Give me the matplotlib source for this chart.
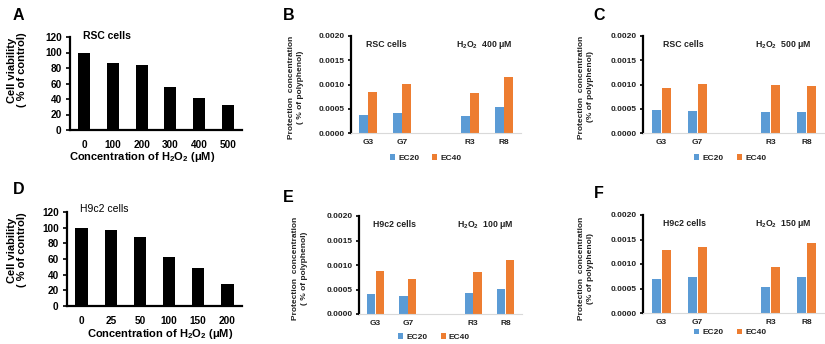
import numpy as np
import matplotlib
matplotlib.use("Agg")
import matplotlib.pyplot as plt
from matplotlib.ticker import FormatStrFormatter

plt.rcParams["font.family"] = ["Liberation Sans", "DejaVu Sans"]
plt.rcParams["mathtext.fontset"] = "custom"
plt.rcParams["mathtext.rm"] = "Liberation Sans"
plt.rcParams["mathtext.bf"] = "Liberation Sans:bold"

# --- data ---
rsc_conc = ["0", "100", "200", "300", "400", "500"]
rsc_viability = [100, 86, 84, 56, 41, 32]
h9c2_conc = ["0", "25", "50", "100", "150", "200"]
h9c2_viability = [100, 97, 88, 62, 49, 28]

groups = ["G3", "G7", "", "R3", "R8"]
b_ec20 = [0.00038, 0.00042, np.nan, 0.00036, 0.00053]
b_ec40 = [0.00084, 0.00101, np.nan, 0.00083, 0.00116]
c_ec20 = [0.00047, 0.00045, np.nan, 0.00044, 0.00043]
c_ec40 = [0.00093, 0.00102, np.nan, 0.00098, 0.00096]
e_ec20 = [0.00041, 0.00036, np.nan, 0.00043, 0.00052]
e_ec40 = [0.00088, 0.00072, np.nan, 0.00086, 0.00110]
f_ec20 = [0.00070, 0.00073, np.nan, 0.00053, 0.00073]
f_ec40 = [0.00128, 0.00135, np.nan, 0.00094, 0.00143]

BLUE = "#5B9BD5"
ORANGE = "#ED7D31"
W, H = 825, 344

fig = plt.figure(figsize=(8.25, 3.44), dpi=100)


def px_axes(left, top, right, bottom):
    return fig.add_axes([left / W, 1 - bottom / H, (right - left) / W, (bottom - top) / H])


def ptext(x, y, s, **kw):
    fig.text(x / W, 1 - y / H, s, **kw)


def viability_panel(ax, labels, vals, title, title_weight, title_y):
    x = np.arange(len(labels))
    ax.bar(x, vals, width=0.42, color="black")
    ax.set_xlim(-0.5, len(labels) - 0.5)
    ax.set_ylim(0, 120)
    ax.set_yticks(range(0, 121, 20))
    ax.set_xticks(x)
    ax.set_xticklabels(labels)
    for s in ["top", "right"]:
        ax.spines[s].set_visible(False)
    for s in ["left", "bottom"]:
        ax.spines[s].set_linewidth(1.6)
    ax.tick_params(axis="x", length=0, pad=7)
    ax.tick_params(axis="y", length=3, width=1.2, pad=3)
    for t in ax.get_xticklabels() + ax.get_yticklabels():
        t.set_fontsize(7.2)
        t.set_fontweight("bold")
    ax.text(0.075, title_y, title, transform=ax.transAxes, fontsize=7.5,
            fontweight=title_weight, va="center")


def protection_panel(ax, ec20, ec40, cells, h2o2, lx, ly, tx):
    x = np.arange(len(groups))
    ax.bar(x - 0.135, ec20, width=0.25, color=BLUE, label="EC20")
    ax.bar(x + 0.135, ec40, width=0.25, color=ORANGE, label="EC40")
    ax.set_xlim(-0.5, len(groups) - 0.5)
    ax.set_ylim(0, 0.002)
    ax.set_yticks(np.arange(0, 0.00201, 0.0005))
    ax.yaxis.set_major_formatter(FormatStrFormatter("%.4f"))
    ax.set_xticks([i for i, g in enumerate(groups) if g])
    ax.set_xticklabels([g for g in groups if g])
    for s in ["top", "right"]:
        ax.spines[s].set_visible(False)
    ax.spines["left"].set_linewidth(1.6)
    ax.spines["bottom"].set_color("#d9d9d9")
    ax.spines["bottom"].set_linewidth(0.8)
    ax.tick_params(axis="x", length=0, pad=4)
    ax.tick_params(axis="y", length=2.5, width=1.2, pad=2)
    for t in ax.get_xticklabels() + ax.get_yticklabels():
        t.set_fontsize(6)
        t.set_fontweight("bold")
        t.set_color("#222222")
    ax.text(tx[0], 0.91, cells, transform=ax.transAxes, fontsize=6.3,
            fontweight="bold", va="center", color="#222222")
    ax.text(tx[1], 0.91, r"H$_\mathbf{2}$O$_\mathbf{2}$  " + h2o2, transform=ax.transAxes,
            fontsize=6.3, fontweight="bold", va="center", color="#222222")
    leg = ax.legend(loc="center", bbox_to_anchor=(lx, ly), ncol=2, frameon=False,
                    handlelength=0.6, handleheight=0.6, handletextpad=0.4,
                    columnspacing=1.6, prop={"size": 6, "weight": "bold"})
    for t in leg.get_texts():
        t.set_color("#222222")


# A
axA = px_axes(70, 37, 242, 130)
viability_panel(axA, rsc_conc, rsc_viability, "RSC cells", "bold", 1.01)
# D
axD = px_axes(67, 212, 242, 306)
viability_panel(axD, h9c2_conc, h9c2_viability, "H9c2 cells", "normal", 1.03)

xlab = r"Concentration of H$_\mathbf{2}$O$_\mathbf{2}$ (μM)"
ptext(142, 157, xlab, fontsize=8, fontweight="bold", ha="center", va="center")
ptext(160, 334, xlab, fontsize=8, fontweight="bold", ha="center", va="center")
for y in (70, 250):
    ptext(17, y, "Cell viability\n( % of control)", fontsize=8, fontweight="bold",
          rotation=90, ha="center", va="center", linespacing=1.1)

# B, C, E, F
axB = px_axes(351, 36, 521, 133)
protection_panel(axB, b_ec20, b_ec40, "RSC cells", "400 μM", 0.44, -0.26, (0.09, 0.62))
axC = px_axes(643, 36, 825, 133)
protection_panel(axC, c_ec20, c_ec40, "RSC cells", "500 μM", 0.48, -0.26, (0.11, 0.615))
axE = px_axes(359, 216, 522, 314)
protection_panel(axE, e_ec20, e_ec40, "H9c2 cells", "100 μM", 0.46, -0.235, (0.086, 0.60))
axF = px_axes(643, 215, 825, 313)
protection_panel(axF, f_ec20, f_ec40, "H9c2 cells", "150 μM", 0.48, -0.2, (0.11, 0.615))

ylab_b = "Protection  concentration\n( % of polyphenol)"
ylab_c = "Protection  concentration\n(% of polyphenol)"
for x, y, s in [(296, 87, ylab_b), (586, 87, ylab_c), (300, 268, ylab_b), (586, 268, ylab_c)]:
    ptext(x, y, s, fontsize=6, fontweight="bold", rotation=90, ha="center", va="center",
          color="#222222", linespacing=1.3)

# panel letters
for x, y, s in [(13, 15, "A"), (283, 15, "B"), (593, 15, "C"),
                (13, 190, "D"), (283, 197, "E"), (594, 193, "F")]:
    ptext(x, y, s, fontsize=11.5, fontweight="bold", ha="left", va="center")

fig.savefig("out.png", dpi=100)
